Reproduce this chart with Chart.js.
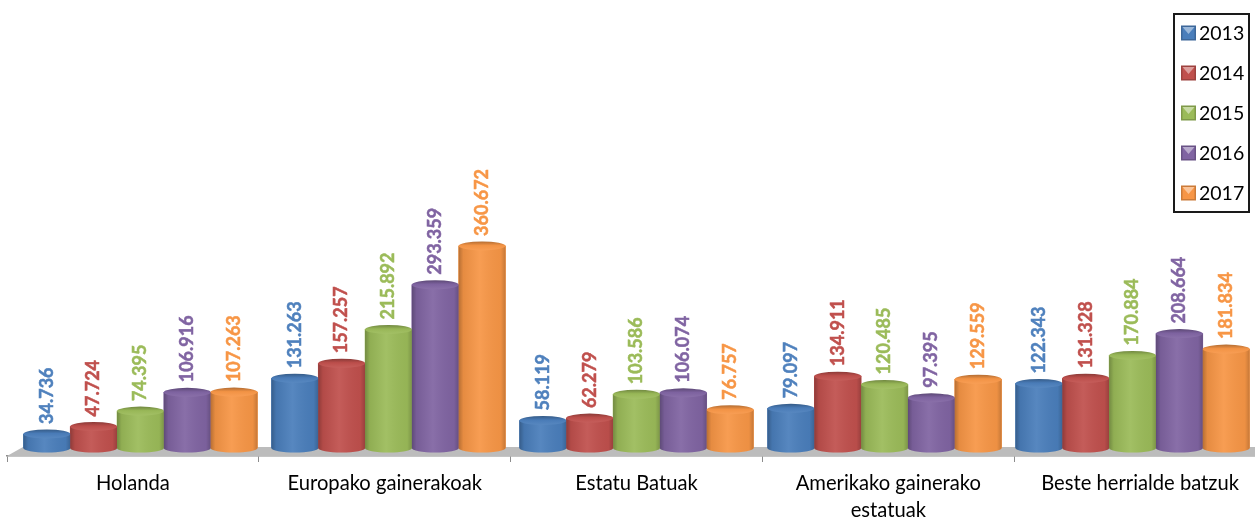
<!DOCTYPE html>
<html><head><meta charset="utf-8">
<style>html,body{margin:0;padding:0;background:#fff;overflow:hidden;width:1255px;height:518px}canvas{display:block}</style>
<script src="https://cdn.jsdelivr.net/npm/chart.js@4"></script></head>
<body><canvas id="c" width="1272" height="518"></canvas>
<script>
const categories=[["Holanda"],["Europako gainerakoak"],["Estatu Batuak"],["Amerikako gainerako","estatuak"],["Beste herrialde batzuk"]];
const years=["2013","2014","2015","2016","2017"];
const v2013=[34736,131263,58119,79097,122343];
const v2014=[47724,157257,62279,134911,131328];
const v2015=[74395,215892,103586,120485,170884];
const v2016=[106916,293359,106074,97395,208664];
const v2017=[107263,360672,76757,129559,181834];
const series=[v2013,v2014,v2015,v2016,v2017];
const colors=["#4a7ebb","#c0504d","#9bbb59","#8064a2","#f79646"];
const labelColors=["#4f81bd","#c0504d","#9bbb59","#8064a2","#f79646"];
const FONT="Lato, Carlito, sans-serif";
const RY=4.5;
function fmt(n){return String(n).replace(/\B(?=(\d{3})+$)/g,".");}
function shade(h,a){const n=parseInt(h.slice(1),16);const f=c=>Math.max(0,Math.min(255,Math.round(a<0?c*(1+a):c+(255-c)*a)));
 return `rgb(${f(n>>16)},${f((n>>8)&255)},${f(n&255)})`;}
const cyl={id:'cyl',
 beforeDatasetsDraw(ch){const c=ch.ctx,a=ch.chartArea,l=a.left,b=a.bottom;
  c.save();c.fillStyle='#bcbcbc';c.beginPath();c.moveTo(l,b);c.lineTo(l+16,b-9);c.lineTo(a.right,b-9);c.lineTo(a.right,b);c.closePath();c.fill();c.restore();},
 afterDatasetsDraw(ch){const c=ch.ctx;
  ch.data.datasets.forEach((d,i)=>{ch.getDatasetMeta(i).data.forEach((e,j)=>{
   const col=colors[i],x0=e.x-e.width/2,x1=e.x+e.width/2,rx=e.width/2,top=e.y,base=e.base;
   c.save();
   c.beginPath();c.moveTo(x0,top);c.lineTo(x0,base);c.ellipse(e.x,base,rx,RY,0,Math.PI,0,true);c.lineTo(x1,top);c.closePath();
   c.fillStyle=col;c.fill();
   const g=c.createLinearGradient(x0,0,x1,0);
   g.addColorStop(0,'rgba(0,0,0,.26)');g.addColorStop(.1,'rgba(0,0,0,.07)');g.addColorStop(.45,'rgba(255,255,255,.07)');g.addColorStop(.9,'rgba(0,0,0,.04)');g.addColorStop(1,'rgba(0,0,0,.2)');
   c.fillStyle=g;c.fill();
   c.beginPath();c.ellipse(e.x,top,rx,RY,0,0,Math.PI*2);
   const t=c.createLinearGradient(0,top-RY,0,top+RY);
   t.addColorStop(0,shade(col,-.28));t.addColorStop(.45,shade(col,-.02));t.addColorStop(1,shade(col,.08));
   c.fillStyle=t;c.fill();
   c.restore();
   c.save();c.translate(e.x,top-10);c.rotate(-Math.PI/2);
   c.fillStyle=labelColors[i];c.strokeStyle=labelColors[i];c.lineWidth=.5;c.font='bold 18px '+FONT;c.textAlign='left';c.textBaseline='middle';
   c.strokeText(fmt(series[i][j]),0,0);c.fillText(fmt(series[i][j]),0,0);c.restore();
  });});
 },
 afterDraw(ch){const c=ch.ctx;c.save();
  c.strokeStyle='#1a1a1a';c.lineWidth=2;c.fillStyle='#fff';c.beginPath();c.rect(1174,14,75,198);c.fill();c.stroke();
  years.forEach((y,i)=>{const cy=33+i*40,col=colors[i],s=15,x=1181;
   c.fillStyle=shade(col,-.18);c.fillRect(x,cy-s/2,s,s);
   c.fillStyle=col;c.fillRect(x+1.5,cy-s/2+1.5,s-3,s-3);
   c.fillStyle=shade(col,.45);c.beginPath();c.moveTo(x+1.5,cy-s/2+1.5);c.lineTo(x+s-1.5,cy-s/2+1.5);c.lineTo(x+s/2,cy+1);c.closePath();c.fill();
   c.fillStyle='#000';c.font='19.5px '+FONT;c.textAlign='left';c.textBaseline='middle';c.fillText(y,1199,cy+.5);
  });c.restore();}
};
new Chart(document.getElementById('c'),{type:'bar',
 data:{datasets:series.map((s,i)=>({label:years[i],data:s.map((v,k)=>({x:k,y:v})),backgroundColor:colors[i],xAxisID:'xb',yAxisID:'y',base:10400,barThickness:46.8}))},
 options:{responsive:false,animation:false,
  layout:{padding:{left:7,right:6,top:0,bottom:0}},
  plugins:{legend:{display:false},tooltip:{enabled:false}},
  scales:{
   xb:{type:'linear',min:-0.538,max:4.538,display:false,offset:false},
   y:{type:'linear',display:false,min:-3466,max:786828},
   x:{type:'category',labels:categories,position:'bottom',offset:true,
      afterFit(s){s.height=62;},
      border:{display:true,color:'#8c8c8c',width:1.5},
      grid:{offset:true,drawOnChartArea:false,drawTicks:true,tickLength:6,color:'#8c8c8c'},
      ticks:{color:'#000',font:{family:FONT,size:20.2,lineHeight:1.35},padding:8,maxRotation:0,autoSkip:false}}
  }},
 plugins:[cyl]});
</script></body></html>
